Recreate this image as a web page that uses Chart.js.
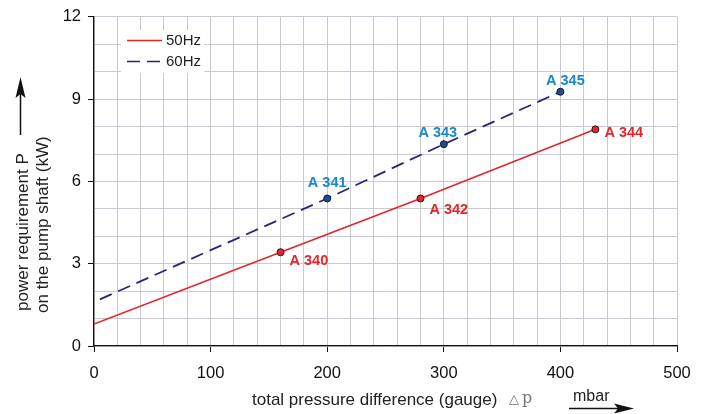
<!DOCTYPE html>
<html>
<head>
<meta charset="utf-8">
<script src="https://cdn.jsdelivr.net/npm/chart.js@4"></script>
<style>
  html, body { margin: 0; padding: 0; background: #fff; }
  #wrap { width: 708px; height: 414px; }
</style>
</head>
<body>
<div id="wrap"><canvas id="chart" width="708" height="414"></canvas></div>
<script>
// values
const pressure_50 = [0, 160, 280, 430]
const power_50 = [0.8, 3.42, 5.38, 7.9]
const names_50 = ["", "A 340", "A 342", "A 344"]

const pressure_60 = [5, 200, 300, 400]
const power_60 = [1.7, 5.38, 7.36, 9.27]
const names_60 = ["", "A 341", "A 343", "A 345"]

const x_ticks = [0, 100, 200, 300, 400, 500]
const y_ticks = [0, 3, 6, 9, 12]

const RED = "#e3262b"
const NAVY = "#2a2578"
const BLUE_LABEL = "#1b86c9"
const GRID = "#cacad2"
const FONT = "'Liberation Sans', Arial, sans-serif"

function toPoints(xs, ys){
    return xs.map(function(x, i){ return {x: x, y: ys[i]} })
}

// point labels, legend and axis titles
const extras = {
    id: "extras",
    afterDatasetsDraw(chart){
        const ctx = chart.ctx
        ctx.save()
        ctx.font = "bold 14.5px " + FONT
        ctx.textBaseline = "middle"

        const red_dy = [0, 9, 12, 4]
        chart.getDatasetMeta(0).data.forEach(function(pt, i){
            if (!names_50[i]) return
            ctx.fillStyle = RED
            ctx.textAlign = "left"
            ctx.fillText(names_50[i], pt.x + 9, pt.y + red_dy[i])
        })
        const blue_dx = [0, 0, -6, 5]
        const blue_dy = [0, -15, -11, -11]
        chart.getDatasetMeta(1).data.forEach(function(pt, i){
            if (!names_60[i]) return
            ctx.fillStyle = BLUE_LABEL
            ctx.textAlign = "center"
            ctx.fillText(names_60[i], pt.x + blue_dx[i], pt.y + blue_dy[i])
        })

        // legend
        ctx.fillStyle = "#fff"
        ctx.fillRect(121, 30, 83, 43)
        ctx.lineWidth = 1.6
        ctx.strokeStyle = RED
        ctx.beginPath(); ctx.moveTo(127, 40.5); ctx.lineTo(162, 40.5); ctx.stroke()
        ctx.strokeStyle = NAVY
        ctx.setLineDash([13, 7])
        ctx.beginPath(); ctx.moveTo(127, 61.5); ctx.lineTo(162, 61.5); ctx.stroke()
        ctx.setLineDash([])
        ctx.font = "15px " + FONT
        ctx.fillStyle = "#222"
        ctx.textAlign = "left"
        ctx.fillText("50Hz", 166, 41)
        ctx.fillText("60Hz", 166, 62)

        // x title
        ctx.font = "17px " + FONT
        ctx.fillText("total pressure difference (gauge)", 252, 400)
        ctx.fillStyle = "#777"
        ctx.font = "13px 'DejaVu Serif', serif"
        ctx.fillText("\u25B3", 509, 400)
        ctx.font = "16px 'DejaVu Serif', serif"
        ctx.fillText("p", 522, 399)
        ctx.fillStyle = "#222"
        ctx.font = "16px " + FONT
        ctx.fillText("mbar", 573, 397)
        ctx.strokeStyle = "#111"
        ctx.lineWidth = 1.5
        ctx.beginPath(); ctx.moveTo(569, 408.5); ctx.lineTo(622, 408.5); ctx.stroke()
        ctx.fillStyle = "#111"
        ctx.beginPath(); ctx.moveTo(634, 408.5); ctx.lineTo(614, 403.5); ctx.lineTo(618, 408.5); ctx.lineTo(614, 413.5); ctx.closePath(); ctx.fill()

        // y title
        ctx.save()
        ctx.rotate(-Math.PI / 2)
        ctx.fillStyle = "#222"
        ctx.font = "17px " + FONT
        ctx.textAlign = "left"
        ctx.fillText("power requirement P", -311, 23)
        ctx.fillText("on the pump shaft (kW)", -313, 43)
        ctx.restore()
        ctx.strokeStyle = "#111"
        ctx.beginPath(); ctx.moveTo(20.5, 135); ctx.lineTo(20.5, 90); ctx.stroke()
        ctx.beginPath(); ctx.moveTo(20.5, 77); ctx.lineTo(15.5, 98); ctx.lineTo(20.5, 94); ctx.lineTo(25.5, 98); ctx.closePath(); ctx.fill()

        ctx.restore()
    }
}

new Chart(document.getElementById("chart"), {
    type: "scatter",
    data: {
        datasets: [{
            label: "50Hz",
            data: toPoints(pressure_50, power_50),
            showLine: true,
            borderColor: RED,
            borderWidth: 1.6,
            pointRadius: [0, 3.5, 3.5, 3.5],
            pointBackgroundColor: RED,
            pointBorderColor: "#3a1010",
            pointBorderWidth: 1
        }, {
            label: "60Hz",
            data: toPoints(pressure_60, power_60),
            showLine: true,
            borderColor: NAVY,
            borderWidth: 1.8,
            borderDash: [13, 7],
            pointRadius: [0, 3.5, 3.5, 3.5],
            pointBackgroundColor: "#1f4e8c",
            pointBorderColor: "#101830",
            pointBorderWidth: 1
        }]
    },
    options: {
        responsive: false,
        animation: false,
        layout: { padding: { left: 0, right: 31, top: 10, bottom: 0 } },
        plugins: {
            legend: { display: false },
            tooltip: { enabled: false }
        },
        scales: {
            x: {
                type: "linear",
                min: 0,
                max: 500,
                afterFit: function(scale){ scale.height = 68 },
                border: { color: "#111", width: 1.3 },
                grid: {
                    color: GRID,
                    tickLength: 6,
                    tickColor: function(c){ return x_ticks.includes(c.tick.value) ? "#111" : "rgba(0,0,0,0)" }
                },
                ticks: {
                    stepSize: 20,
                    autoSkip: false,
                    maxRotation: 0,
                    padding: 12,
                    color: "#111",
                    font: { size: 16.5, family: FONT },
                    callback: function(v){ return x_ticks.includes(v) ? v : "" }
                }
            },
            y: {
                type: "linear",
                min: 0,
                max: 12,
                afterFit: function(scale){ scale.width = 94 },
                border: { color: "#111", width: 1.3 },
                grid: {
                    color: GRID,
                    tickLength: 6,
                    tickColor: function(c){ return y_ticks.includes(c.tick.value) ? "#111" : "rgba(0,0,0,0)" }
                },
                ticks: {
                    stepSize: 1,
                    autoSkip: false,
                    padding: 7,
                    color: "#111",
                    font: { size: 16.5, family: FONT },
                    callback: function(v){ return y_ticks.includes(v) ? v : "" }
                }
            }
        }
    },
    plugins: [extras]
});
</script>
</body>
</html>
